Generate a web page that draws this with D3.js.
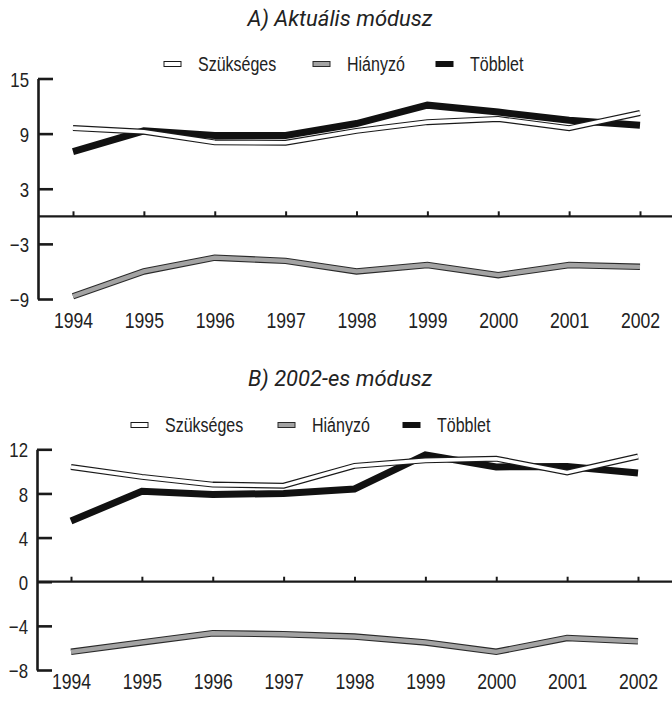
<!DOCTYPE html>
<html>
<head>
<meta charset="utf-8">
<script src="https://cdn.jsdelivr.net/npm/d3@7"></script>
<style>
  body { margin: 0; background: #fff; }
  svg { display: block; }
  .title { font-family: Roboto, "Liberation Sans", sans-serif; font-style: italic; font-size: 22px; fill: #222; }
  .lab { font-family: "Liberation Sans", Arial, sans-serif; fill: #222; }
</style>
</head>
<body>
<script>
// adatok
const years = [1994, 1995, 1996, 1997, 1998, 1999, 2000, 2001, 2002]
const seriesNames = ['Szükséges', 'Hiányzó', 'Többlet']

// A) Aktuális módusz
const szuksegesA = [9.6, 9.2, 8.05, 8.0, 9.3, 10.25, 10.6, 9.6, 11.25]
const hianyzoA = [-8.7, -6.0, -4.5, -4.85, -6.0, -5.3, -6.4, -5.3, -5.5]
const tobbletA = [7.05, 9.3, 8.8, 8.8, 10.1, 12.1, 11.35, 10.45, 9.9]
const yTicksA = [15, 9, 3, -3, -9]

// B) 2002-es módusz
const szuksegesB = [10.4, 9.5, 8.8, 8.7, 10.5, 11.0, 11.15, 9.9, 11.35]
const hianyzoB = [-6.35, -5.5, -4.67, -4.76, -4.97, -5.5, -6.35, -5.1, -5.4]
const tobbletB = [5.5, 8.2, 7.9, 8.0, 8.4, 11.5, 10.4, 10.45, 9.85]
const yTicksB = [12, 8, 4, 0, -4, -8]

const svg = d3.select('body').append('svg').attr('width', 672).attr('height', 701)

const styles = {
    'Szükséges': { outer: '#1a1a1a', inner: '#ffffff', ow: 6, iw: 3.6 },
    'Hiányzó': { outer: '#2a2a2a', inner: '#a3a3a3', ow: 6.5, iw: 4.3 },
    'Többlet': { outer: '#111111', inner: null, ow: 7, iw: 0 }
}

function drawPanel(cfg) {
    const g = svg.append('g')

    const x = d3.scalePoint().domain(years).range(cfg.xRange)
    const y = d3.scaleLinear().domain(cfg.yDomain).range(cfg.yRange)

    // cím
    g.append('text').attr('class', 'title')
        .attr('x', 340).attr('y', cfg.titleY)
        .attr('text-anchor', 'middle').text(cfg.title)

    // jelmagyarázat
    const leg = g.append('g').attr('transform', `translate(0,${cfg.legendY})`)
    seriesNames.forEach((name, i) => {
        const s = styles[name]
        const lx = cfg.legendX[i]
        leg.append('rect').attr('x', lx).attr('y', -2.5).attr('width', 17).attr('height', 5)
            .attr('fill', s.inner || s.outer).attr('stroke', s.outer).attr('stroke-width', 1)
        leg.append('text').attr('class', 'lab').attr('x', lx + 34).attr('y', 7)
            .style('font-size', '20px').text(name)
    })

    // y tengely
    const yAxis = d3.axisLeft(y).tickValues(cfg.yTicks).tickSizeInner(-15).tickSizeOuter(0)
        .tickPadding(9).tickFormat(d3.format('d'))
    const yAxisDraw = g.append('g').attr('transform', `translate(${cfg.axisX},0)`).call(yAxis)
    yAxisDraw.select('.domain').attr('stroke', '#1a1a1a').attr('stroke-width', 2.6)
    yAxisDraw.selectAll('.tick line').attr('stroke', '#1a1a1a').attr('stroke-width', 2.6)
    yAxisDraw.selectAll('.tick text').attr('class', 'lab').style('font-size', '21px')
        .attr('fill', '#222').attr('dy', '0.36em')

    // nulla vonal
    g.append('line').attr('x1', cfg.axisX).attr('x2', 672)
        .attr('y1', y(0)).attr('y2', y(0)).attr('stroke', '#1a1a1a').attr('stroke-width', 2.2)
    const zeroTicks = d3.axisBottom(x).tickSizeInner(-5).tickSizeOuter(0).tickFormat('')
    const zt = g.append('g').attr('transform', `translate(0,${y(0)})`).call(zeroTicks)
    zt.select('.domain').remove()
    zt.selectAll('.tick line').attr('stroke', '#1a1a1a').attr('stroke-width', 2)

    // év feliratok
    const xAxis = d3.axisBottom(x).tickSize(0).tickPadding(0)
    const xa = g.append('g').attr('transform', `translate(0,${cfg.labelY})`).call(xAxis)
    xa.select('.domain').remove()
    xa.selectAll('.tick text').attr('class', 'lab').style('font-size', '22px')
        .attr('fill', '#222').attr('dy', 0)

    // vonalak
    const line = d3.line().x((d, i) => x(years[i])).y(d => y(d))
    const drawSeries = (name, values) => {
        const s = styles[name]
        g.append('path').datum(values).attr('d', line).attr('fill', 'none')
            .attr('stroke', s.outer).attr('stroke-width', s.ow).attr('stroke-linejoin', 'miter')
        if (s.inner) {
            g.append('path').datum(values).attr('d', line).attr('fill', 'none')
                .attr('stroke', s.inner).attr('stroke-width', s.iw).attr('stroke-linejoin', 'miter')
        }
    }
    drawSeries('Hiányzó', cfg.hianyzo)
    drawSeries('Többlet', cfg.tobblet)
    drawSeries('Szükséges', cfg.szukseges)
}

drawPanel({
    title: 'A) Aktuális módusz', titleY: 26,
    legendY: 64, legendX: [164, 313, 436],
    xRange: [73, 640], yDomain: [-9, 15], yRange: [299, 78.5], yTicks: yTicksA,
    axisX: 38, labelY: 328,
    szukseges: szuksegesA, hianyzo: hianyzoA, tobblet: tobbletA
})

drawPanel({
    title: 'B) 2002-es módusz', titleY: 386,
    legendY: 425, legendX: [131, 278, 403],
    xRange: [71, 638], yDomain: [-8, 12], yRange: [670, 449.3], yTicks: yTicksB,
    axisX: 37, labelY: 689,
    szukseges: szuksegesB, hianyzo: hianyzoB, tobblet: tobbletB
})

// keskenyített betűk (nincs condensed font)
svg.selectAll('text.lab').each(function () {
    const w = this.getComputedTextLength()
    d3.select(this).attr('textLength', w * 0.8).attr('lengthAdjust', 'spacingAndGlyphs')
})
</script>
</body>
</html>
